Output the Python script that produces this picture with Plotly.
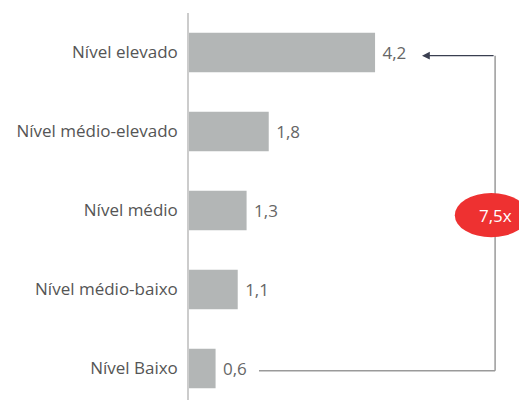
import plotly.graph_objects as go

# data
niveis = ["Nível elevado", "Nível médio-elevado", "Nível médio", "Nível médio-baixo", "Nível Baixo"]
valores = [4.2, 1.8, 1.3, 1.1, 0.6]
razao = "7,5x"

fig = go.Figure()
fig.add_trace(go.Bar(
    x=valores, y=niveis, orientation="h",
    marker=dict(color="#b3b6b6", line=dict(width=0)),
    texttemplate=" %{x:.1f}", textposition="outside",
    textfont=dict(color="#666666", size=17),
    cliponaxis=False, width=0.5,
))

# arrow from the smallest bar to the largest one
x_arrow = 6.91
fig.add_shape(type="line", xref="x", yref="y", x0=1.58, x1=x_arrow, y0=4.03, y1=4.03,
              line=dict(color="#9a9a9a", width=1.5))
fig.add_shape(type="line", xref="x", yref="y", x0=x_arrow, x1=x_arrow, y0=4.03, y1=0.04,
              line=dict(color="#9a9a9a", width=1.5))
fig.add_annotation(x=5.26, y=0.04, ax=x_arrow, ay=0.04, xref="x", yref="y", axref="x", ayref="y",
                   text="", showarrow=True, arrowhead=2, arrowsize=1.3, arrowwidth=1.2,
                   arrowcolor="#3a3f50")
# red badge
fig.add_shape(type="circle", xref="x", yref="y", x0=6.0, x1=7.65, y0=1.78, y1=2.34,
              fillcolor="#ee3131", line=dict(width=0), layer="above")
fig.add_annotation(x=x_arrow, y=2.06, xref="x", yref="y", text=razao, showarrow=False,
                   font=dict(color="white", size=17))

# page body has an 8px margin: size the figure so it fits the window without scrollbars
fig.update_layout(
    width=519, height=392,
    margin=dict(l=181, r=0, t=4.5, b=0),
    paper_bgcolor="white", plot_bgcolor="white",
    font=dict(family="Open Sans", color="#555555", size=17),
    separators=",.",
    showlegend=False,
    xaxis=dict(range=[0, 7.63], visible=False),
    yaxis=dict(range=[4.4, -0.5], showline=True, linecolor="#cccccc", linewidth=1.5,
               showgrid=False, ticks="", ticklabelstandoff=6,
               tickfont=dict(size=17, color="#555555")),
)

fig.write_html("out.html")
